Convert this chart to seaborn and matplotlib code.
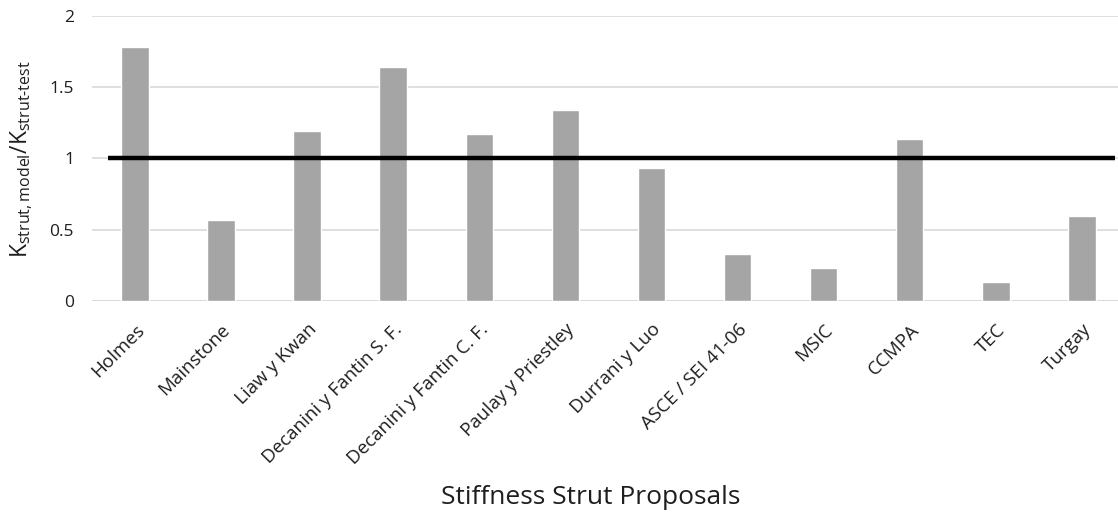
import matplotlib
matplotlib.use("Agg")
import matplotlib.pyplot as plt
import seaborn as sns
import pandas as pd

# Stiffness ratio of each strut proposal (model / test)
proposals = [
    "Holmes", "Mainstone", "Liaw y Kwan", "Decanini y Fantin S. F.",
    "Decanini y Fantin C. F.", "Paulay y Priestley", "Durrani y Luo",
    "ASCE / SEI 41-06", "MSIC", "CCMPA", "TEC", "Turgay",
]
ratios = [1.78, 0.57, 1.19, 1.64, 1.17, 1.34, 0.93, 0.33, 0.23, 1.14, 0.13, 0.60]
reference_ratio = 1.0
y_ticks = [0, 0.5, 1, 1.5, 2]
y_tick_labels = ["0", "0.5", "1", "1.5", "2"]

df = pd.DataFrame({"proposal": proposals, "ratio": ratios})

sns.set_theme(style="white")
plt.rcParams["font.family"] = ["Open Sans", "DejaVu Sans"]
plt.rcParams["mathtext.fontset"] = "custom"
plt.rcParams["mathtext.rm"] = "Open Sans"
plt.rcParams["mathtext.it"] = "Open Sans"

fig = plt.figure(figsize=(11.18, 5.15), dpi=100)
ax = fig.add_axes([0.0823, 0.4155, 1 - 0.0823, 0.969 - 0.4155])

sns.barplot(data=df, x="proposal", y="ratio", color="#a5a5a5",
            saturation=1, width=0.32, ax=ax, zorder=2)

ax.hlines(reference_ratio, -0.32, 11.39, color="black", lw=3.2, zorder=3)

ax.set_ylim(0, 2)
ax.set_xlim(-0.5, 11.42)
ax.set_yticks(y_ticks)
ax.set_yticklabels(y_tick_labels)
ax.yaxis.grid(True, color="#d9d9d9", lw=1.2, zorder=0)
ax.set_axisbelow(True)
for s in ax.spines.values():
    s.set_visible(False)
ax.axhline(0, color="#d9d9d9", lw=1.2, zorder=1)

ax.tick_params(axis="y", length=0, pad=13, labelsize=12.5, labelcolor="#1e1e1e")
ax.tick_params(axis="x", length=0, pad=14, labelsize=13.5, labelcolor="#1e1e1e")
plt.setp(ax.get_xticklabels(), rotation=45, ha="right", rotation_mode="anchor")

ax.set_xlabel("")
ax.set_ylabel("")
fig.text(591 / 1118, 1 - 497 / 515, "Stiffness Strut Proposals",
         ha="center", va="center", fontsize=19, color="#1e1e1e")
fig.text(22 / 1118, 1 - 159 / 515,
         r"K$_{\mathrm{strut,model}}$/K$_{\mathrm{strut\text{-}test}}$",
         rotation=90, ha="center", va="center", fontsize=16.5, color="#1e1e1e")

fig.savefig("out.png", dpi=100)
